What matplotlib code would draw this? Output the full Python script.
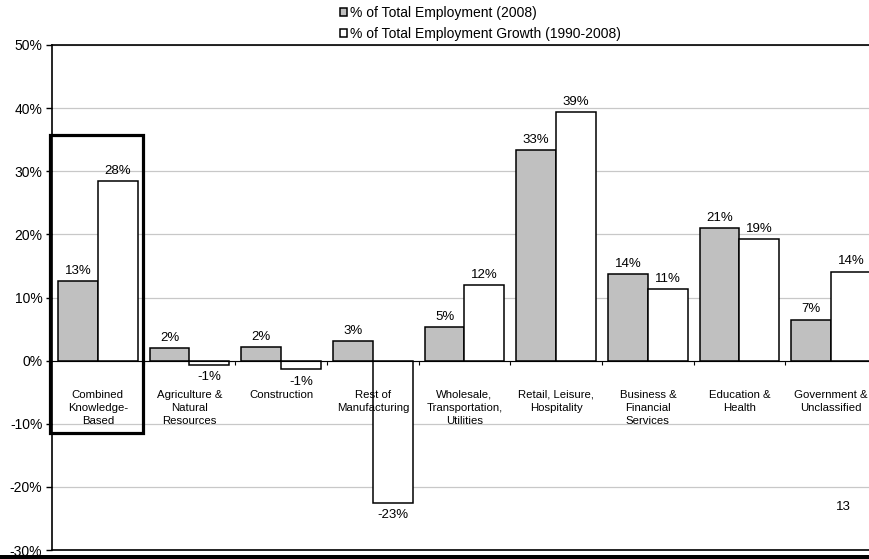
import matplotlib.pyplot as plt
from matplotlib.patches import Rectangle

plt.rcParams["font.family"] = ["Liberation Sans", "DejaVu Sans"]

categories = [
    "Combined\nKnowledge-\nBased",
    "Agriculture &\nNatural\nResources",
    "Construction",
    "Rest of\nManufacturing",
    "Wholesale,\nTransportation,\nUtilities",
    "Retail, Leisure,\nHospitality",
    "Business &\nFinancial\nServices",
    "Education &\nHealth",
    "Government &\nUnclassified",
]
share_2008 = [12.6, 1.95, 2.2, 3.1, 5.3, 33.4, 13.7, 21.0, 6.5]
growth_1990_2008 = [28.4, -0.7, -1.4, -22.5, 12.0, 39.4, 11.3, 19.2, 14.1]
share_labels = ["13%", "2%", "2%", "3%", "5%", "33%", "14%", "21%", "7%"]
growth_labels = ["28%", "-1%", "-1%", "-23%", "12%", "39%", "11%", "19%", "14%"]
yticks = [-30, -20, -10, 0, 10, 20, 30, 40, 50]

fig = plt.figure(figsize=(8.7, 5.59), dpi=100)
ax = fig.add_axes([52 / 870, 9 / 559, 825 / 870, 505 / 559])

w = 0.435
x = list(range(len(categories)))
b1 = ax.bar([i - w / 2 for i in x], share_2008, w, color="#C0C0C0",
            edgecolor="black", linewidth=1.1, zorder=3,
            label="% of Total Employment (2008)")
b2 = ax.bar([i + w / 2 for i in x], growth_1990_2008, w, color="white",
            edgecolor="black", linewidth=1.1, zorder=3,
            label="% of Total Employment Growth (1990-2008)")

for bars, labels in ((b1, share_labels), (b2, growth_labels)):
    for bar, lab in zip(bars, labels):
        h = bar.get_height()
        cx = bar.get_x() + bar.get_width() / 2
        if h >= 0:
            ax.annotate(lab, (cx, h), xytext=(0, 3), textcoords="offset points",
                        ha="center", va="bottom", fontsize=9.5, zorder=5)
        else:
            ax.annotate(lab, (cx, h), xytext=(0, -4.5), textcoords="offset points",
                        ha="center", va="top", fontsize=9.5, zorder=5)

# category names sit just under the zero line
for i, name in enumerate(categories):
    ax.text(i, -4.6, name, ha="center", va="top", fontsize=8.2,
            linespacing=1.38, zorder=6)

ax.set_xlim(-0.5, len(categories) - 0.5)
ax.set_ylim(-30, 50)
ax.set_yticks(yticks)
ax.set_yticklabels([f"{v}%" for v in yticks], fontsize=10)
ax.yaxis.grid(True, color="#C8C8C8", linewidth=0.9, zorder=0)
ax.set_axisbelow(True)

# zero line with small marks at group boundaries
ax.spines["bottom"].set_position(("data", 0))
ax.spines["bottom"].set_zorder(4)
ax.set_xticks([i + 0.5 for i in x[:-1]])
ax.set_xticklabels([])
ax.tick_params(axis="x", direction="out", length=3, width=0.8)
ax.tick_params(axis="y", direction="out", length=4, width=1, pad=3)
ax.axhline(-30, color="black", linewidth=1.2, clip_on=False)
for side in ("left", "top"):
    ax.spines[side].set_linewidth(1.2)
ax.spines["right"].set_visible(False)

# highlight box around the first group
ax.add_patch(Rectangle((-0.52, -11.4), 1.01, 47.2, fill=False,
                       edgecolor="black", linewidth=2.3, clip_on=False, zorder=7))

fig.legend(handles=[b1, b2], loc="upper left",
           bbox_to_anchor=(340 / 870, 1 - 6 / 559), frameon=False,
           fontsize=10, handlelength=0.5, handleheight=0.5,
           handletextpad=0.25, labelspacing=0.5, borderaxespad=0,
           borderpad=0)

fig.text(843 / 870, 1 - 507 / 559, "13", ha="center", va="center", fontsize=9.5)
fig.patches.append(Rectangle((0, 0), 1, 4 / 559, transform=fig.transFigure,
                             facecolor="black", edgecolor="none"))

fig.savefig("out.png", dpi=100)
